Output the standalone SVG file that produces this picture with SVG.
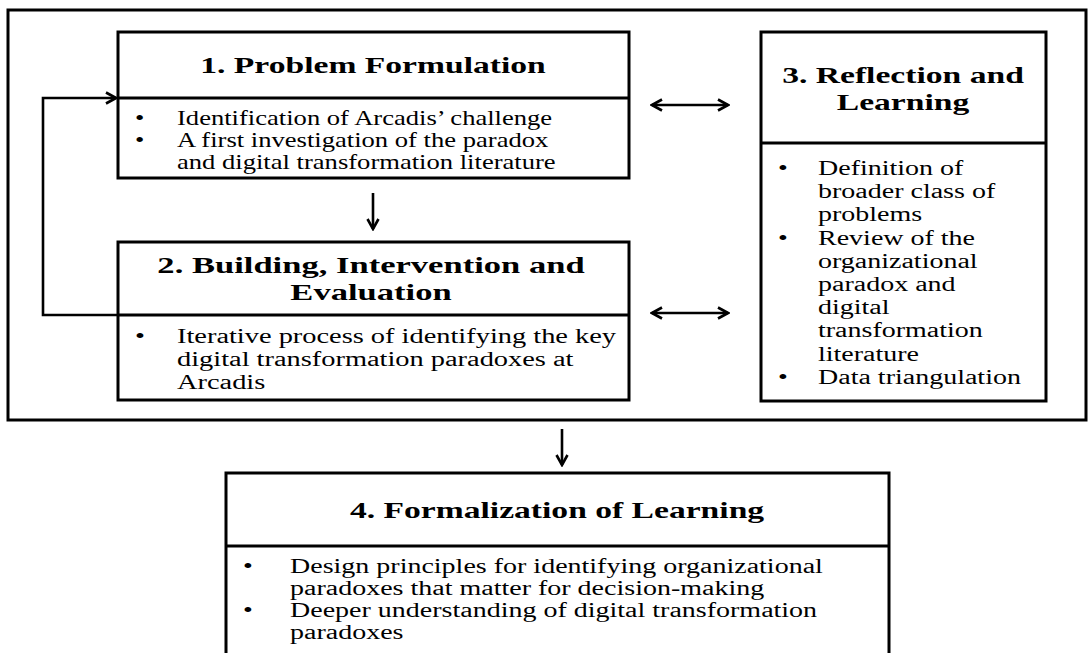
<svg xmlns="http://www.w3.org/2000/svg" width="1088" height="653" viewBox="0 0 1088 653">
<defs>
<style>
.box{fill:none;stroke:#000;stroke-width:3}
.div{stroke:#000;stroke-width:3}
.ln{fill:none;stroke:#000;stroke-width:2.6}
.h{font-family:"Liberation Serif","Times New Roman",serif;font-size:24px;font-weight:bold;text-anchor:middle;fill:#000}
.b{font-family:"Liberation Serif","Times New Roman",serif;font-size:20px;fill:#000}
</style>
<marker id="ah" viewBox="0 0 14 14" refX="12" refY="7" markerWidth="14" markerHeight="14" markerUnits="userSpaceOnUse" orient="auto-start-reverse">
<path d="M2,1.5 L12,7 L2,12.5" fill="none" stroke="#000" stroke-width="2.6"/>
</marker>
</defs>
<rect width="1088" height="653" fill="#fff"/>
<g id="frame">
<rect class="box" x="8" y="10" width="1078" height="410"/>
</g>
<g id="node1">
<rect class="box" x="118" y="32" width="511" height="146"/>
<line class="div" x1="118" y1="98" x2="629" y2="98"/>
<text class="h" transform="translate(373 73) scale(1.4 1)">1. Problem Formulation</text>
<text class="b" transform="translate(135 125) scale(1.33 1)">•</text>
<text class="b" transform="translate(177 125) scale(1.33 1)">Identification of Arcadis’ challenge</text>
<text class="b" transform="translate(135 147) scale(1.33 1)">•</text>
<text class="b" transform="translate(177 147) scale(1.33 1)">A first investigation of the paradox</text>
<text class="b" transform="translate(177 169) scale(1.33 1)">and digital transformation literature</text>
</g>
<g id="node2">
<rect class="box" x="118" y="242" width="511" height="158"/>
<line class="div" x1="118" y1="315" x2="629" y2="315"/>
<text class="h" transform="translate(371 273) scale(1.44 1)">2. Building, Intervention and</text>
<text class="h" transform="translate(371 300) scale(1.44 1)">Evaluation</text>
<text class="b" transform="translate(135 343) scale(1.42 1)">•</text>
<text class="b" transform="translate(177 343) scale(1.42 1)">Iterative process of identifying the key</text>
<text class="b" transform="translate(177 366) scale(1.42 1)">digital transformation paradoxes at</text>
<text class="b" transform="translate(177 389) scale(1.42 1)">Arcadis</text>
</g>
<g id="node3">
<rect class="box" x="761" y="32" width="285" height="369"/>
<line class="div" x1="761" y1="143" x2="1046" y2="143"/>
<text class="h" transform="translate(903 83) scale(1.4 1)">3. Reflection and</text>
<text class="h" transform="translate(903 110) scale(1.4 1)">Learning</text>
<text class="b" transform="translate(778 175) scale(1.4 1)">•</text>
<text class="b" transform="translate(818 175) scale(1.4 1)">Definition of</text>
<text class="b" transform="translate(818 198) scale(1.4 1)">broader class of</text>
<text class="b" transform="translate(818 221) scale(1.4 1)">problems</text>
<text class="b" transform="translate(778 245) scale(1.4 1)">•</text>
<text class="b" transform="translate(818 245) scale(1.4 1)">Review of the</text>
<text class="b" transform="translate(818 268) scale(1.4 1)">organizational</text>
<text class="b" transform="translate(818 291) scale(1.4 1)">paradox and</text>
<text class="b" transform="translate(818 314) scale(1.4 1)">digital</text>
<text class="b" transform="translate(818 337) scale(1.4 1)">transformation</text>
<text class="b" transform="translate(818 361) scale(1.4 1)">literature</text>
<text class="b" transform="translate(778 384) scale(1.4 1)">•</text>
<text class="b" transform="translate(818 384) scale(1.4 1)">Data triangulation</text>
</g>
<g id="node4">
<rect class="box" x="226" y="473" width="663" height="200"/>
<line class="div" x1="226" y1="546" x2="889" y2="546"/>
<text class="h" transform="translate(557 518) scale(1.4 1)">4. Formalization of Learning</text>
<text class="b" transform="translate(243 573) scale(1.4 1)">•</text>
<text class="b" transform="translate(290 573) scale(1.4 1)">Design principles for identifying organizational</text>
<text class="b" transform="translate(290 595) scale(1.4 1)">paradoxes that matter for decision-making</text>
<text class="b" transform="translate(243 617) scale(1.4 1)">•</text>
<text class="b" transform="translate(290 617) scale(1.4 1)">Deeper understanding of digital transformation</text>
<text class="b" transform="translate(290 639) scale(1.4 1)">paradoxes</text>
</g>
<g id="connectors">
<line class="ln" x1="373" y1="193" x2="373" y2="229" marker-end="url(#ah)"/>
<polyline class="ln" points="118,315 43,315 43,98 116,98" marker-end="url(#ah)"/>
<line class="ln" x1="652" y1="105" x2="728" y2="105" marker-start="url(#ah)" marker-end="url(#ah)"/>
<line class="ln" x1="652" y1="313" x2="728" y2="313" marker-start="url(#ah)" marker-end="url(#ah)"/>
<line class="ln" x1="562" y1="429" x2="562" y2="465" marker-end="url(#ah)"/>
</g>
</svg>
